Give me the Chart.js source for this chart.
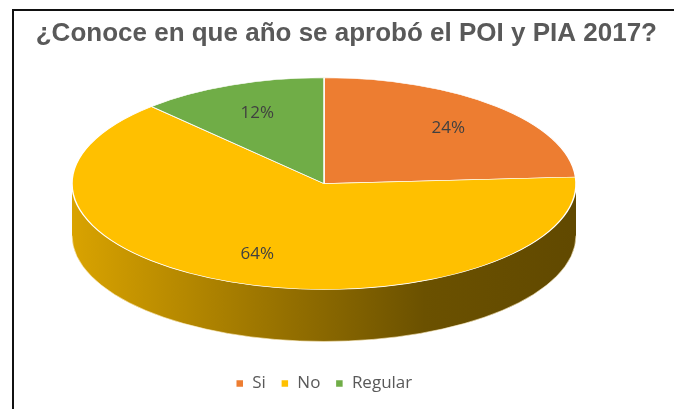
<!DOCTYPE html>
<html>
<head>
<meta charset="utf-8">
<script src="https://cdn.jsdelivr.net/npm/chart.js@4"></script>
<style>
    body { margin: 0; background: #fff; overflow: hidden; }
    .frame {
        position: absolute; left: 12px; top: 9px; width: 700px; height: 420px;
        border-left: 2px solid #111; border-top: 2px solid #111;
    }
    #chart { position: absolute; left: -9px; top: 0; }
</style>
</head>
<body>
<div class="frame"></div>
<canvas id="chart" width="683" height="409"></canvas>
<script>
// Values
const categories = ['Si', 'No', 'Regular'];
const values = [24, 64, 12];
const sliceColors = ['#ED7D31', '#FFC000', '#70AD47'];
const titleText = '¿Conoce en que año se aprobó el POI y PIA 2017?';

// darken a hex color by factor f
function shade(hex, f) {
    const n = parseInt(hex.slice(1), 16);
    const r = Math.round(((n >> 16) & 255) * f);
    const g = Math.round(((n >> 8) & 255) * f);
    const b = Math.round((n & 255) * f);
    return `rgb(${r},${g},${b})`;
}

/* ----------------------------------------------------
   Fake 3D pie: squash the pie and draw a front wall
---------------------------------------------------- */
const pie3d = {
    id: 'pie3d',
    geometry(chart, opts) {
        const arc = chart.getDatasetMeta(0).data[0];
        return { cx: arc.x, cy: arc.y - opts.depth / 2, r: arc.outerRadius };
    },
    beforeDatasetsDraw(chart, args, opts) {
        const ctx = chart.ctx;
        const meta = chart.getDatasetMeta(0);
        const { cx, cy, r } = this.geometry(chart, opts);
        const ry = r * opts.tilt;
        const d = opts.depth;

        meta.data.forEach((arc, i) => {
            const s = Math.max(arc.startAngle, 0);
            const e = Math.min(arc.endAngle, Math.PI);
            if (e <= s) return;
            const col = sliceColors[i];
            const grad = ctx.createLinearGradient(cx - r, 0, cx + r, 0);
            grad.addColorStop(0, shade(col, 0.85));
            grad.addColorStop(0.45, shade(col, 0.57));
            grad.addColorStop(0.7, shade(col, 0.42));
            grad.addColorStop(1, shade(col, 0.38));
            ctx.save();
            ctx.beginPath();
            ctx.ellipse(cx, cy, r, ry, 0, s, e);
            ctx.ellipse(cx, cy + d, r, ry, 0, e, s, true);
            ctx.closePath();
            ctx.fillStyle = grad;
            ctx.fill();
            // light rim along the bottom edge
            ctx.beginPath();
            ctx.ellipse(cx, cy + d, r, ry, 0, s, e);
            ctx.strokeStyle = 'rgba(255,240,200,0.6)';
            ctx.lineWidth = 1;
            ctx.stroke();
            ctx.restore();
        });

        ctx.save();
        ctx.translate(cx, cy);
        ctx.scale(1, opts.tilt);
        ctx.translate(-meta.data[0].x, -meta.data[0].y);
    },
    afterDatasetsDraw(chart, args, opts) {
        const ctx = chart.ctx;
        ctx.restore();

        const meta = chart.getDatasetMeta(0);
        const { cx, cy, r } = this.geometry(chart, opts);
        const total = values.reduce((a, b) => a + b, 0);

        ctx.save();
        ctx.font = '17px "Open Sans"';
        ctx.fillStyle = '#404040';
        ctx.textAlign = 'center';
        ctx.textBaseline = 'middle';
        meta.data.forEach((arc, i) => {
            const mid = (arc.startAngle + arc.endAngle) / 2;
            const x = cx + Math.cos(mid) * r * opts.labelPos;
            const y = cy + Math.sin(mid) * r * opts.tilt * opts.labelPos;
            ctx.fillText(Math.round(values[i] / total * 100) + '%', x, y);
        });
        ctx.restore();
    }
};

new Chart(document.getElementById('chart'), {
    type: 'pie',
    data: {
        labels: categories,
        datasets: [{
            data: values,
            backgroundColor: sliceColors,
            borderColor: '#ffffff',
            borderWidth: 1.5,
            radius: 252
        }]
    },
    options: {
        responsive: false,
        animation: false,
        events: [],
        layout: { padding: { left: 0, right: 17, top: 0, bottom: 7 } },
        plugins: {
            title: {
                display: true,
                text: titleText,
                align: 'end',
                color: '#595959',
                font: { family: '"Liberation Sans", Arial', size: 26, weight: 'bold', lineHeight: 1.2 },
                padding: { top: 18, bottom: 10 }
            },
            legend: {
                position: 'bottom',
                labels: {
                    usePointStyle: true,
                    pointStyle: 'rect',
                    boxWidth: 8,
                    boxHeight: 8,
                    padding: 15,
                    color: '#595959',
                    font: { family: '"Open Sans"', size: 17 }
                }
            },
            tooltip: { enabled: false },
            pie3d: { tilt: 0.42, depth: 52, labelPos: 0.72 }
        }
    },
    plugins: [pie3d]
});
</script>
</body>
</html>
